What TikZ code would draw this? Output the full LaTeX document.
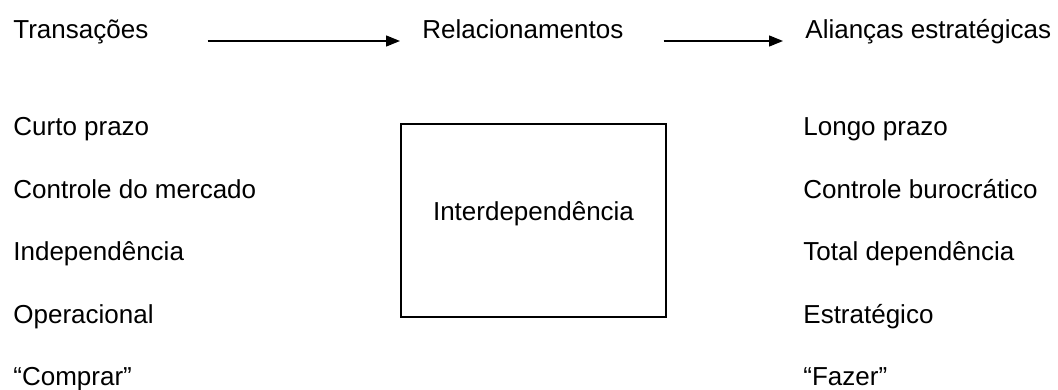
\documentclass[tikz,border=0pt]{standalone}
\usepackage{fontspec}
\setmainfont{Liberation Sans}
\usepackage{tikz}
\usetikzlibrary{calc}
\usetikzlibrary{arrows.meta}

\begin{document}
\begin{tikzpicture}[x=0.5pt, y=-0.5pt,
    texto/.style={anchor=base west, inner sep=0pt, font=\fontsize{13}{15}\selectfont},
    seta/.style={line width=0.7pt, -{Triangle[length=7pt, width=5.5pt]}},
    caixa/.style={draw, line width=0.7pt, minimum width=132.5pt, minimum height=96.5pt, inner sep=0pt}]
                \useasboundingbox (0,0) rectangle (1058,390);
                % linha de cima
                \node[texto] (transacoes) at (13,39) {Transações};
                \node[texto] (relacionamentos) at (422,39) {Relacionamentos};
                \node[texto] (aliancas) at (805,39) {Alianças estratégicas};
                \draw[seta] ([xshift=29.5pt, yshift=-1pt]transacoes.base east) -- ([xshift=-11pt, yshift=-1pt]relacionamentos.base west);
                \draw[seta] ([xshift=20pt, yshift=-1pt]relacionamentos.base east) -- ([xshift=-11pt, yshift=-1pt]aliancas.base west);
                % coluna da esquerda
                \node[texto] (curto) at (13,135) {Curto prazo};
                \node[texto] (mercado) at (13,198) {Controle do mercado};
                \node[texto] (independencia) at (13,260) {Independência};
                \node[texto] (operacional) at (13,323) {Operacional};
                \node[texto] (comprar) at (13,385) {“Comprar”};
                % caixa do meio
                \node[caixa] (interdep) at (533.5,220.5) {};
                \node[texto, anchor=base] (interdeptxt) at (interdep.center) {Interdependência};
                % coluna da direita
                \node[texto] (longo) at (803,135) {Longo prazo};
                \node[texto] (burocratico) at (803,198) {Controle burocrático};
                \node[texto] (dependencia) at (803,260) {Total dependência};
                \node[texto] (estrategico) at (803,323) {Estratégico};
                \node[texto] (fazer) at (803,385) {“Fazer”};
            \end{tikzpicture}
\end{document}
